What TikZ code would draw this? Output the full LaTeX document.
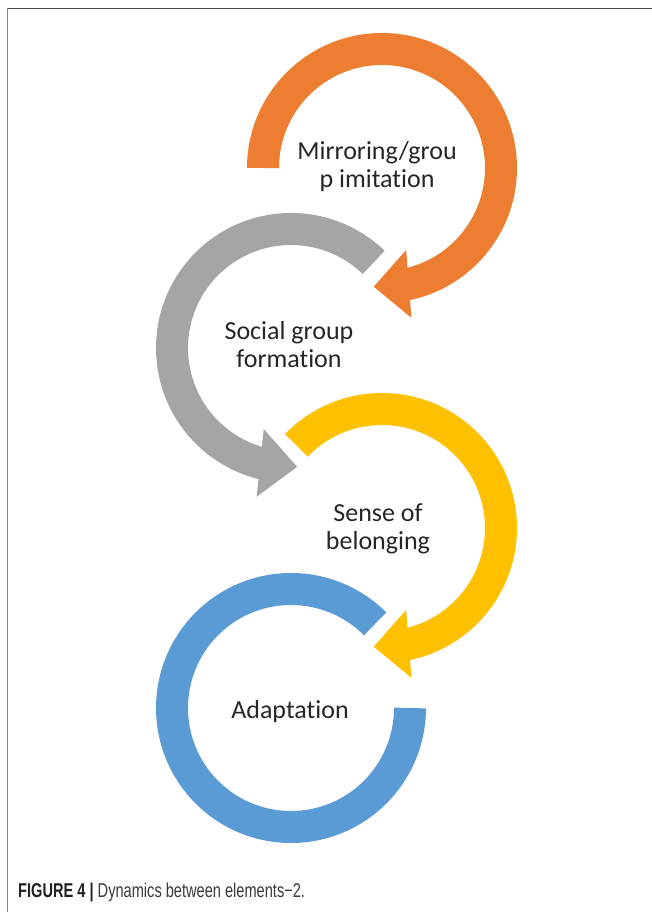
\documentclass[tikz,border=0pt]{standalone}
\usepackage{fontspec}
\setmainfont{Carlito}[Ligatures=NoCommon]
\newfontfamily\capfont[FakeStretch=0.73]{Liberation Sans}
\usetikzlibrary{calc}
\definecolor{orangec}{HTML}{ED7D31}
\definecolor{grayc}{HTML}{A5A5A5}
\definecolor{yellowc}{HTML}{FFC000}
\definecolor{bluec}{HTML}{5B9BD5}
\definecolor{txt}{HTML}{262626}
\definecolor{capdark}{HTML}{231F20}
\definecolor{capgray}{HTML}{3A3A3A}
\begin{document}
\begin{tikzpicture}[x=1pt,y=1pt,
  band/.style={line width=32pt},
  ringtext/.style={font=\fontsize{26}{28}\selectfont, text=txt, align=center, inner sep=0pt},
  framerule/.style={line width=1.4pt},
]
\useasboundingbox (0,0) rectangle (652,912);
\fill[white] (0,0) rectangle (652,912);
% frame
\coordinate (fc) at (7.5,903.7);
\coordinate (fr) at (652,903.7);
\coordinate (fb) at (7.5,0);
\draw[framerule, color=black!72] (fc) -- (fr);
\draw[framerule, color=black!50] (fc) -- (fb);
% centres
\coordinate (O) at (382,744);
\coordinate (G) at (291,564);
\coordinate (Y) at (382,384);
\coordinate (B) at (291,204);
% orange
\draw[band, orangec] ($(O)+(180:119pt)$) arc[start angle=180, end angle=-80, radius=119pt];
\coordinate (ob) at ($(O)+(-77:119pt)$);
\coordinate (ot) at ($(O)+(-94:119pt)$);
\fill[orangec] ($(ob)!34pt!90:(ot)$) -- (ot) -- ($(ob)!34pt!-90:(ot)$) -- cycle;
% gray
\draw[band, grayc] ($(G)+(46:119pt)$) arc[start angle=46, end angle=258, radius=119pt];
\coordinate (gb) at ($(G)+(255:119pt)$);
\coordinate (gt) at ($(G)+(273:119pt)$);
\fill[grayc] ($(gb)!34pt!90:(gt)$) -- (gt) -- ($(gb)!34pt!-90:(gt)$) -- cycle;
% yellow
\draw[band, yellowc] ($(Y)+(136:119pt)$) arc[start angle=136, end angle=-80, radius=119pt];
\coordinate (yb) at ($(Y)+(-77:119pt)$);
\coordinate (yt) at ($(Y)+(-94:119pt)$);
\fill[yellowc] ($(yb)!34pt!90:(yt)$) -- (yt) -- ($(yb)!34pt!-90:(yt)$) -- cycle;
% blue
\draw[band, bluec] ($(B)+(45:119pt)$) arc[start angle=45, end angle=360, radius=119pt];
% texts
\node[ringtext] (mirror) at (377,745) {Mirroring/grou\\p imitation};
\node[ringtext] (social) at (289,567) {Social group\\formation};
\node[ringtext] (sense) at (378,383) {Sense of\\belonging};
\node[ringtext] (adapt) at (290,200) {Adaptation};
% caption
\node[anchor=base west, inner sep=0pt, font=\capfont\fontsize{20}{24}\selectfont] (cap) at (18,14)
  {\textcolor{capdark}{\bfseries FIGURE 4 |} \textcolor{capgray}{Dynamics between elements−2.}};
\end{tikzpicture}
\end{document}
